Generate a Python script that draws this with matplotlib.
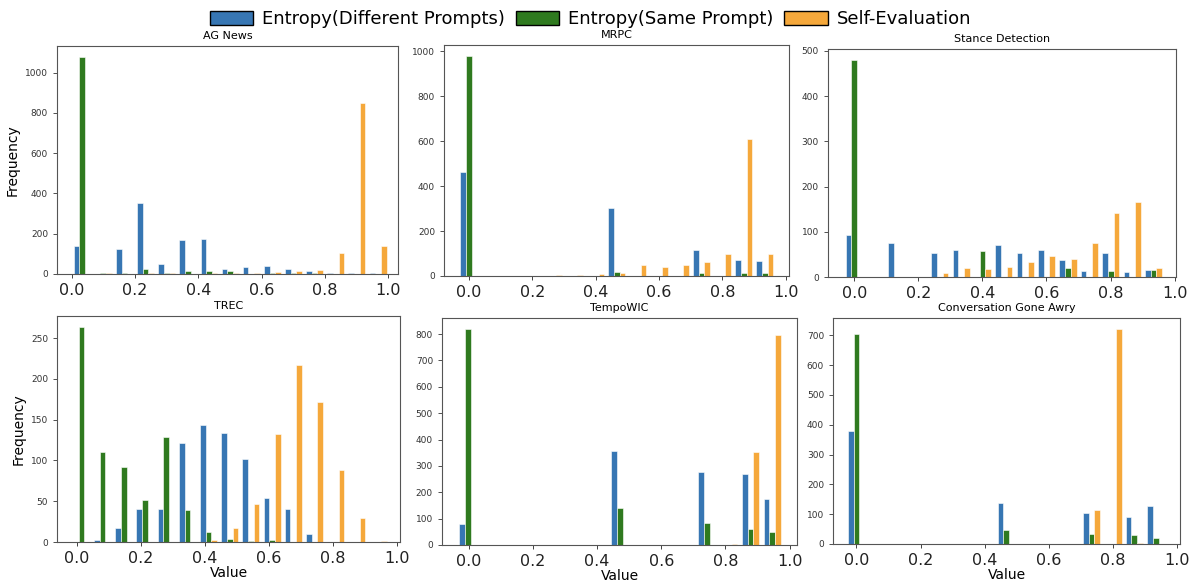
import matplotlib
matplotlib.use("Agg")
import matplotlib.pyplot as plt
from matplotlib.patches import Patch
import numpy as np

series_names = ["Entropy(Different Prompts)", "Entropy(Same Prompt)", "Self-Evaluation"]
colors = ["#3776b3", "#2f7a1f", "#f5a83b"]

titles = ["AG News", "MRPC", "Stance Detection", "TREC", "TempoWIC", "Conversation Gone Awry"]

# bin start and width for each panel (15 bins each)
bin_start = [0.0, -0.0333, -0.0333, -0.02, -0.036, -0.0333]
bin_width = [0.0667, 0.0667, 0.0667, 0.0663, 0.0677, 0.0667]

# counts per bin
ag_diff = [140, 0, 125, 352, 48, 168, 173, 27, 33, 38, 27, 15, 5, 3, 3]
ag_same = [1078, 5, 3, 25, 3, 15, 15, 15, 0, 3, 3, 3, 0, 0, 0]
ag_self = [0, 3, 0, 5, 3, 2, 3, 5, 5, 8, 15, 18, 105, 850, 137]

mrpc_diff = [462, 0, 0, 0, 0, 0, 0, 303, 0, 0, 0, 117, 0, 70, 65]
mrpc_same = [980, 0, 0, 0, 0, 0, 0, 18, 0, 0, 0, 15, 0, 12, 12]
mrpc_self = [0, 0, 0, 0, 5, 5, 8, 12, 47, 38, 47, 63, 97, 610, 97]

stance_diff = [93, 0, 75, 0, 53, 60, 0, 70, 53, 60, 37, 14, 52, 11, 15]
stance_same = [480, 0, 0, 0, 0, 0, 57, 0, 0, 0, 20, 0, 14, 0, 15]
stance_self = [0, 0, 0, 0, 8, 19, 18, 23, 33, 47, 40, 75, 142, 165, 19]

trec_diff = [0, 3, 17, 41, 41, 122, 143, 134, 102, 54, 41, 10, 0, 0, 0]
trec_same = [264, 110, 92, 51, 129, 39, 12, 4, 1, 3, 0, 0, 0, 0, 0]
trec_self = [0, 0, 0, 0, 0, 0, 2, 17, 47, 132, 217, 172, 88, 29, 1]

tempo_diff = [80, 0, 0, 0, 0, 0, 0, 358, 0, 0, 0, 275, 0, 270, 175]
tempo_same = [820, 0, 0, 0, 0, 0, 0, 140, 0, 0, 0, 83, 0, 62, 50]
tempo_self = [0, 0, 0, 0, 0, 0, 0, 0, 0, 0, 0, 0, 5, 352, 797]

cga_diff = [378, 0, 0, 0, 0, 0, 0, 138, 0, 0, 0, 105, 0, 92, 128]
cga_same = [705, 0, 0, 0, 0, 0, 0, 48, 0, 0, 0, 34, 0, 30, 20]
cga_self = [0, 0, 0, 0, 0, 0, 0, 0, 0, 0, 0, 115, 722, 3, 0]

panels = [
    (ag_diff, ag_same, ag_self),
    (mrpc_diff, mrpc_same, mrpc_self),
    (stance_diff, stance_same, stance_self),
    (trec_diff, trec_same, trec_self),
    (tempo_diff, tempo_same, tempo_self),
    (cga_diff, cga_same, cga_self),
]

# axes rectangles in figure fraction, and x limits
rects = [
    [0.0478, 0.5284, 0.2858, 0.3924],
    [0.3722, 0.5250, 0.2892, 0.3976],
    [0.6940, 0.5232, 0.2917, 0.3924],
    [0.0478, 0.0671, 0.2875, 0.3890],
    [0.3705, 0.0620, 0.2976, 0.3907],
    [0.6983, 0.0637, 0.2909, 0.3890],
]
xlims = [(-0.046, 1.03), (-0.078, 1.01), (-0.082, 1.004),
         (-0.063, 1.01), (-0.083, 1.023), (-0.073, 1.01)]

fig = plt.figure(figsize=(11.93, 5.81), dpi=100)

for i, (counts, title) in enumerate(zip(panels, titles)):
    ax = fig.add_axes(rects[i])
    edges = bin_start[i] + bin_width[i] * np.arange(16)
    centers = (edges[:-1] + edges[1:]) / 2
    ax.hist([centers, centers, centers], bins=edges, weights=list(counts),
            color=colors, edgecolor="white", linewidth=0.4)
    ax.set_xlim(*xlims[i])
    ax.set_xticks([0.0, 0.2, 0.4, 0.6, 0.8, 1.0])
    ax.set_title(title, fontsize=8, pad=5)
    ax.tick_params(axis="x", labelsize=11.5, length=3, width=0.6, colors="#222222")
    ax.tick_params(axis="y", labelsize=6.5, length=3, width=0.6, colors="#333333")
    for s in ax.spines.values():
        s.set_color("#555555")
        s.set_linewidth(0.8)
    if i % 3 == 0:
        ax.set_ylabel("Frequency", fontsize=10)
    if i >= 3:
        ax.set_xlabel("Value", fontsize=10, labelpad=0)

handles = [Patch(facecolor=c, edgecolor="black", linewidth=1) for c in colors]
fig.legend(handles, series_names, loc="upper center", bbox_to_anchor=(0.495, 1.01),
           ncol=3, frameon=False, fontsize=13, handlelength=2.4, handleheight=0.8,
           handletextpad=0.5, columnspacing=0.6)

fig.savefig("out.png", dpi=100)
